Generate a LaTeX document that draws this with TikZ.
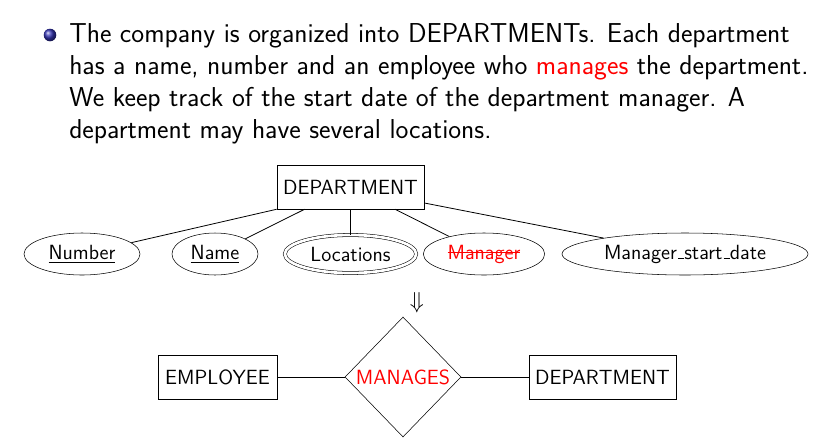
\documentclass[tikz,border=0pt]{standalone}
\usetikzlibrary{shapes.geometric}
\definecolor{ballblue}{RGB}{51,51,179}
\definecolor{myred}{RGB}{255,0,0}
\newsavebox{\strikebox}
\newcommand{\mystrike}[1]{\sbox{\strikebox}{#1}\rlap{\raisebox{0.3em}{\rule{\wd\strikebox}{0.7pt}}}\usebox{\strikebox}}
\newcommand{\myus}{\leavevmode\kern.06em\vbox{\hrule width.3em}}
\begin{document}
\begin{tikzpicture}[x=0.75pt,y=-0.75pt,
  body/.style={anchor=base west,inner sep=0pt,font=\sffamily\fontsize{20.5}{24}\selectfont},
  ent/.style={draw,rectangle,minimum width=110.5pt,minimum height=33pt,inner sep=0pt,font=\sffamily\fontsize{15.4}{18}\selectfont},
  attr/.style={draw,ellipse,minimum height=31.5pt,inner sep=0pt,font=\sffamily\fontsize{15.4}{18}\selectfont},
  rel/.style={draw,diamond,minimum width=87pt,minimum height=90pt,inner sep=0pt},
  conn/.style={draw,line width=0.6pt}]
\useasboundingbox (0,0) rectangle (828,447);
\shade[ball color=ballblue] (50,35) circle (6.3);
\node[body] (l1) at (69,42) {The company is organized into DEPARTMENTs. Each department};
\node[body] (l2) at (69,74) {has a name, number and an employee who \textcolor{myred}{manages} the department.};
\node[body] (l3) at (69,106) {We keep track of the start date of the department manager. A};
\node[body] (l4) at (69,138) {department may have several locations.};
% top ER
\node[ent] (dep) at (350.5,187) {DEPARTMENT};
\node[attr,minimum width=87pt] (num) at (82,254) {\underline{Number}};
\node[attr,minimum width=64.5pt] (nam) at (215,254) {\underline{Name}};
\node[attr,minimum width=98.5pt,minimum height=28.5pt,double,double distance=2pt] (loc) at (350.5,254) {Locations};
\node[attr,minimum width=91pt,text=myred] (mgr) at (484,254) {\mystrike{Manager}};
\node[attr,minimum width=184.5pt] (msd) at (685,254) {Manager\myus start\myus date};
\draw[conn] (dep.south west) -- (num);
\draw[conn] ([xshift=21pt]dep.south west) -- (nam);
\draw[conn] (dep.south) -- (loc);
\draw[conn] ([xshift=-22pt]dep.south east) -- (mgr);
\draw[conn] ([yshift=-12pt]dep.east) -- (msd);
% arrow
\node[inner sep=0pt,font=\fontsize{18}{20}\selectfont] (arr) at (417,303) {$\Downarrow$};
% bottom ER
\node[ent,minimum width=89pt] (emp) at (217.5,377) {EMPLOYEE};
\node[rel,label={[text=myred,font=\sffamily\fontsize{15.4}{18}\selectfont]center:MANAGES}] (man) at (403,377) {};
\node[ent] (dep2) at (602.5,377) {DEPARTMENT};
\draw[conn] (emp) -- (man);
\draw[conn] (man) -- (dep2);
\end{tikzpicture}
\end{document}
